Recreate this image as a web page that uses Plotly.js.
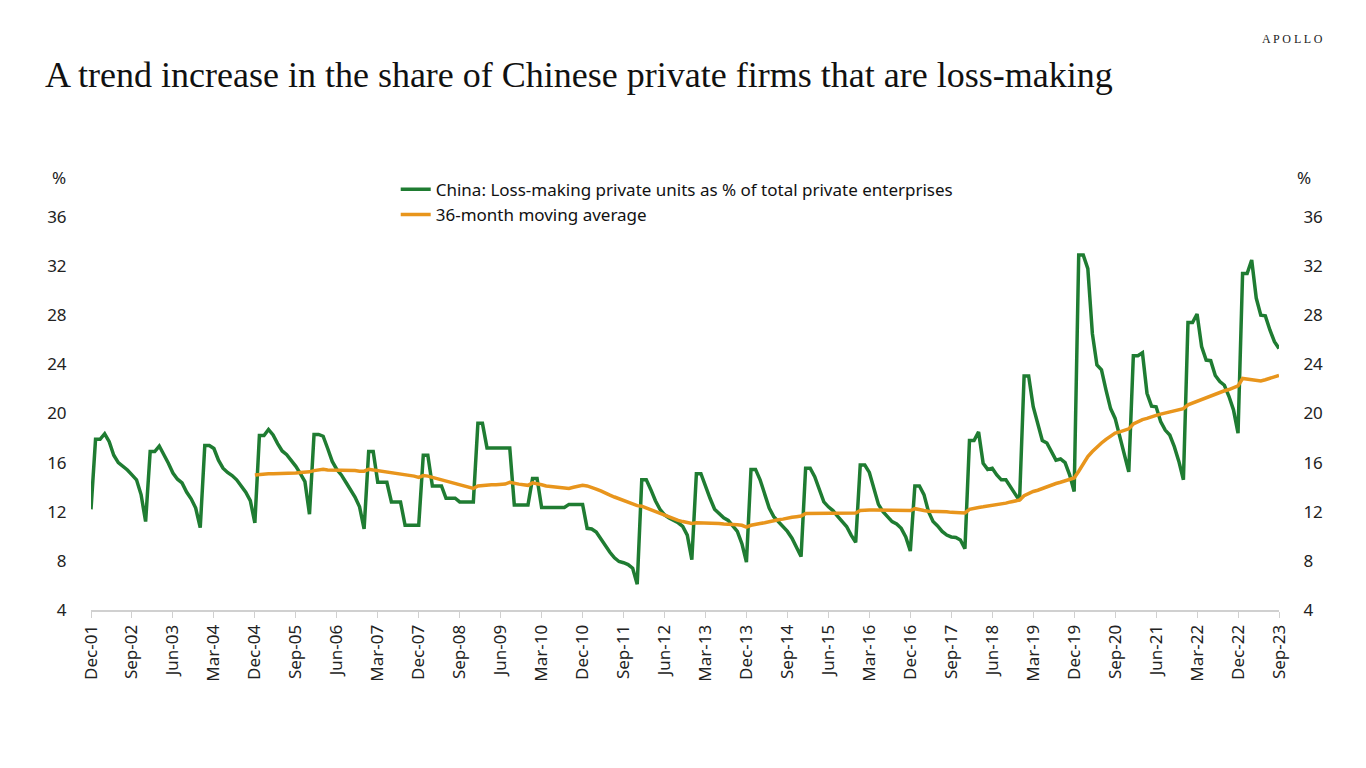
<!DOCTYPE html>
<html>
<head>
<meta charset="utf-8">
<script src="https://cdn.plot.ly/plotly-3.0.1.min.js"></script>
<style>
html, body { margin: 0; padding: 0; background: #ffffff; }
#chart { width: 1366px; height: 768px; }
</style>
</head>
<body>
<div id="chart"></div>
<script>
// Monthly observations, Dec-01 .. Sep-23 (index 0 = Dec-01)
const tickLabels = ['Dec-01','Sep-02','Jun-03','Mar-04','Dec-04','Sep-05','Jun-06','Mar-07','Dec-07','Sep-08',
  'Jun-09','Mar-10','Dec-10','Sep-11','Jun-12','Mar-13','Dec-13','Sep-14','Jun-15','Mar-16',
  'Dec-16','Sep-17','Jun-18','Mar-19','Dec-19','Sep-20','Jun-21','Mar-22','Dec-22','Sep-23'];
const tickStepMonths = 9;

const yTicks = [4, 8, 12, 16, 20, 24, 28, 32, 36];

// China: loss-making private units as % of total private enterprises
const lossShare = [12.2,
  17.9, 17.9, 18.35, 17.7, 16.6, 16.0, 15.7, 15.4, 15.0, 14.6, 13.4, 11.2,
  16.9, 16.9, 17.35, 16.7, 15.95, 15.15, 14.65, 14.35, 13.6, 13.05, 12.3, 10.7,
  17.4, 17.4, 17.15, 16.2, 15.55, 15.2, 14.95, 14.6, 14.15, 13.6, 12.9, 11.1,
  18.2, 18.2, 18.7, 18.25, 17.55, 16.95, 16.65, 16.2, 15.7, 15.1, 14.45, 11.8,
  18.3, 18.3, 18.15, 17.15, 16.1, 15.45, 15.0, 14.4, 13.75, 13.2, 12.4, 10.6,
  16.9, 16.9, 14.4, 14.4, 14.4, 12.8, 12.8, 12.8, 10.9, 10.9, 10.9, 10.9,
  16.6, 16.6, 14.1, 14.1, 14.1, 13.1, 13.1, 13.1, 12.8, 12.8, 12.8, 12.8,
  19.2, 19.2, 17.2, 17.2, 17.2, 17.2, 17.2, 17.2, 12.55, 12.55, 12.55, 12.55,
  14.7, 14.7, 12.35, 12.35, 12.35, 12.35, 12.35, 12.35, 12.6, 12.6, 12.6, 12.6,
  10.65, 10.6, 10.35, 9.8, 9.15, 8.7, 8.25, 7.95, 7.85, 7.7, 7.4, 6.1,
  14.6, 14.6, 13.8, 12.9, 12.2, 11.75, 11.5, 11.3, 11.1, 10.8, 10.1, 8.1,
  15.1, 15.1, 14.05, 13.1, 12.2, 11.8, 11.5, 11.3, 10.9, 10.4, 9.4, 7.9,
  15.45, 15.45, 14.6, 13.35, 12.3, 11.6, 11.2, 10.8, 10.4, 9.85, 9.15, 8.35,
  15.55, 15.55, 14.85, 13.75, 12.8, 12.4, 12.1, 11.65, 11.2, 10.8, 10.1, 9.5,
  15.8, 15.8, 15.2, 14.0, 12.6, 12.0, 11.55, 11.2, 11.0, 10.65, 9.95, 8.8,
  14.1, 14.1, 13.4, 12.0, 11.2, 10.85, 10.4, 10.1, 9.95, 9.9, 9.7, 9.0,
  17.8, 17.8, 18.5, 15.95, 15.45, 15.55, 15.0, 14.6, 14.6, 14.05, 13.5, 12.9,
  23.05, 23.05, 20.55, 19.2, 17.8, 17.6, 16.9, 16.2, 16.3, 16.0, 15.0, 13.65,
  32.9, 32.9, 31.8, 26.5, 23.95, 23.55, 21.9, 20.4, 19.6, 18.1, 16.75, 15.25,
  24.7, 24.7, 24.95, 21.65, 20.6, 20.55, 19.35, 18.65, 18.25, 17.3, 16.1, 14.6,
  27.4, 27.4, 28.1, 25.45, 24.35, 24.3, 23.1, 22.6, 22.3, 21.4, 20.3, 18.4,
  31.4, 31.4, 32.5, 29.4, 28.0, 27.95, 26.8, 25.85, 25.3];

// 36-month moving average, starting at Dec-04 (index 36)
const maStartIndex = 36;
const movingAvg = [15.0,
  15.05, 15.05, 15.1, 15.1, 15.1, 15.15, 15.1, 15.15, 15.15, 15.2, 15.2, 15.25,
  15.35, 15.4, 15.45, 15.4, 15.4, 15.4, 15.35, 15.35, 15.35, 15.35, 15.3, 15.3,
  15.45, 15.4, 15.35, 15.3, 15.25, 15.2, 15.15, 15.1, 15.0, 14.95, 14.9, 14.8,
  14.95, 14.9, 14.8, 14.7, 14.6, 14.5, 14.4, 14.3, 14.2, 14.1, 14.0, 13.9,
  14.1, 14.15, 14.15, 14.2, 14.2, 14.2, 14.25, 14.4, 14.3, 14.25, 14.2, 14.15,
  14.35, 14.3, 14.2, 14.1, 14.05, 14.0, 14.0, 13.95, 13.9, 14.0, 14.1, 14.15,
  14.1, 14.0, 13.85, 13.7, 13.5, 13.35, 13.2, 13.05, 12.9, 12.75, 12.6, 12.5,
  12.45, 12.3, 12.15, 12.0, 11.85, 11.7, 11.55, 11.4, 11.3, 11.2, 11.1, 11.05,
  11.1, 11.1, 11.05, 11.05, 11.05, 11.05, 11.0, 11.0, 11.0, 10.95, 10.9, 10.75,
  10.9, 11.0, 11.05, 11.1, 11.2, 11.3, 11.35, 11.4, 11.5, 11.55, 11.6, 11.65,
  11.85, 11.85, 11.85, 11.85, 11.85, 11.85, 11.85, 11.85, 11.85, 11.85, 11.9, 11.9,
  12.1, 12.15, 12.15, 12.15, 12.15, 12.15, 12.15, 12.15, 12.1, 12.1, 12.1, 12.1,
  12.25, 12.15, 12.1, 12.05, 12.05, 12.0, 12.0, 12.0, 11.95, 11.95, 11.9, 11.9,
  12.2, 12.3, 12.35, 12.4, 12.45, 12.5, 12.6, 12.65, 12.7, 12.8, 12.85, 12.95,
  13.3, 13.5, 13.65, 13.75, 13.9, 14.0, 14.15, 14.3, 14.4, 14.5, 14.65, 14.75,
  15.3, 15.9, 16.5, 16.9, 17.3, 17.6, 17.9, 18.15, 18.4, 18.5, 18.65, 18.75,
  19.15, 19.35, 19.5, 19.6, 19.75, 19.85, 19.95, 20.05, 20.15, 20.25, 20.3, 20.4,
  20.7, 20.85, 21.0, 21.1, 21.25, 21.4, 21.55, 21.7, 21.85, 21.95, 22.1, 22.25,
  22.85, 22.8, 22.8, 22.7, 22.65, 22.75, 22.85, 23.0, 23.1];

const seriesNames = ['China: Loss-making private units as % of total private enterprises', '36-month moving average'];

const GREEN = '#1f7c32';
const ORANGE = '#e8951c';
const SANS = 'Segoe UI, Noto Sans, Open Sans, sans-serif';
const SERIF = 'Liberation Serif, Times New Roman, serif';

const traces = [
  {
    x: lossShare.map((_, i) => i),
    y: lossShare,
    name: seriesNames[0],
    type: 'scatter', mode: 'lines',
    line: { color: GREEN, width: 3.5 },
    yaxis: 'y'
  },
  {
    x: movingAvg.map((_, i) => i + maStartIndex),
    y: movingAvg,
    name: seriesNames[1],
    type: 'scatter', mode: 'lines',
    line: { color: ORANGE, width: 3.5 },
    yaxis: 'y2'
  }
];

const yCommon = {
  range: [4, 36],
  tickmode: 'array',
  tickvals: yTicks,
  ticktext: yTicks.map(String),
  showgrid: false,
  zeroline: false,
  showline: false,
  ticks: 'outside',
  ticklen: 20,
  tickcolor: 'rgba(0,0,0,0)',
  tickfont: { family: SANS, size: 17, color: '#222222' },
  fixedrange: true
};

const layout = {
  width: 1366,
  height: 768,
  paper_bgcolor: '#ffffff',
  plot_bgcolor: '#ffffff',
  margin: { l: 91, r: 87, t: 217, b: 158 },
  title: {
    text: 'A trend increase in the share of Chinese private firms that are loss-making',
    font: { family: SERIF, size: 36, color: '#111111' },
    xref: 'container', yref: 'container',
    x: 45 / 1366, xanchor: 'left',
    y: 1 - 74 / 768, yanchor: 'middle'
  },
  xaxis: {
    range: [0, 261],
    tickmode: 'array',
    tickvals: tickLabels.map((_, i) => i * tickStepMonths),
    ticktext: tickLabels,
    tickangle: -90,
    ticks: 'outside',
    ticklen: 6,
    tickwidth: 1,
    tickcolor: '#d0d0d0',
    showline: true,
    linecolor: '#d0d0d0',
    linewidth: 2,
    showgrid: false,
    zeroline: false,
    tickfont: { family: SANS, size: 17, color: '#222222' },
    fixedrange: true
  },
  yaxis: Object.assign({}, yCommon, { side: 'left' }),
  yaxis2: Object.assign({}, yCommon, { side: 'right', overlaying: 'y' }),
  showlegend: true,
  legend: {
    x: 0.2565, xanchor: 'left',
    y: 1.115, yanchor: 'top',
    bgcolor: 'rgba(0,0,0,0)',
    borderwidth: 0,
    font: { family: SANS, size: 17, color: '#111111' },
    tracegroupgap: 0,
    itemwidth: 30
  },
  annotations: [
    { text: 'A P O L L O', xref: 'paper', yref: 'paper', x: (1325 - 91) / 1188, y: (610 - 39) / 393,
      xanchor: 'right', yanchor: 'middle', showarrow: false,
      font: { family: SERIF, size: 12, color: '#222222' } },
    { text: '%', xref: 'paper', yref: 'paper', x: (59 - 91) / 1188, y: (610 - 177) / 393,
      xanchor: 'center', yanchor: 'middle', showarrow: false,
      font: { family: SANS, size: 17, color: '#222222' } },
    { text: '%', xref: 'paper', yref: 'paper', x: (1304 - 91) / 1188, y: (610 - 177) / 393,
      xanchor: 'center', yanchor: 'middle', showarrow: false,
      font: { family: SANS, size: 17, color: '#222222' } }
  ]
};

Plotly.newPlot('chart', traces, layout, { displayModeBar: false, staticPlot: true });
</script>
</body>
</html>
